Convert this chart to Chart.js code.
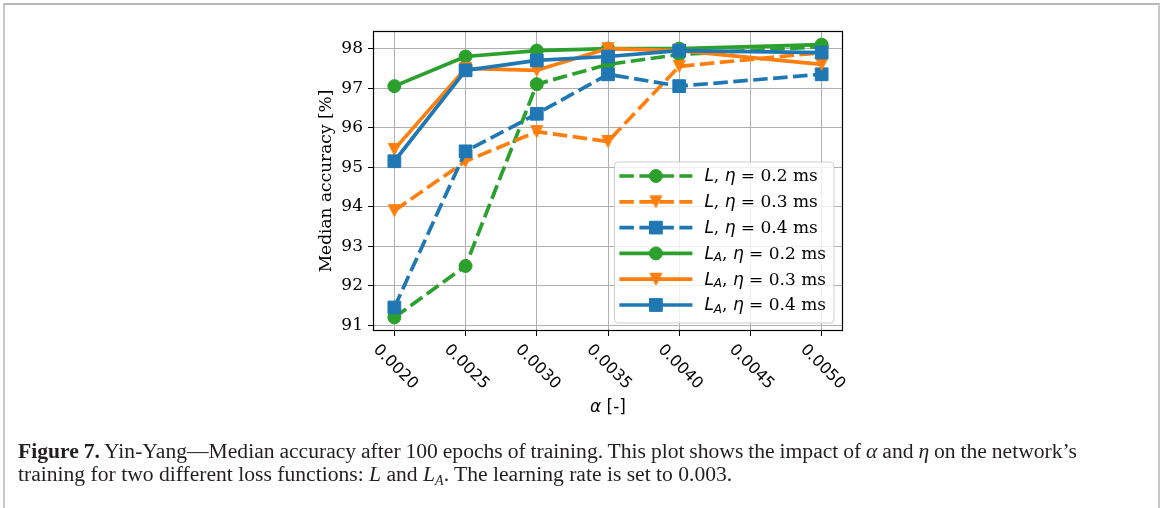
<!DOCTYPE html>
<html>
<head>
<meta charset="utf-8">
<script src="https://cdn.jsdelivr.net/npm/chart.js@4.4.1/dist/chart.umd.min.js"></script>
<style>
  html, body { margin: 0; padding: 0; background: #fff; width: 1163px; height: 508px; overflow: hidden; }
  #frame { position: absolute; left: 3px; top: 3px; width: 1153px; height: 620px;
           border-left: 2px solid #c8c8c8; border-top: 2px solid #b8b8b8; border-right: 2px solid #c8c8c8; }
  #plot { position: absolute; left: 0; top: 0; }
  #caption { position: absolute; left: 18px; top: 440px; font-family: "Liberation Serif", serif;
             font-size: 21.6px; line-height: 22.5px; color: #231f20; white-space: nowrap; }
  #caption .l1 { word-spacing: -0.5px; }
  #caption b { font-weight: bold; }
  #caption sub { font-size: 14px; vertical-align: -4px; line-height: 0; }
</style>
</head>
<body>
<div id="frame"></div>
<canvas id="plot" width="1163" height="508"></canvas>
<div id="caption"><div class="l1"><b>Figure 7.</b> Yin-Yang—Median accuracy after 100 epochs of training. This plot shows the impact of <i>α</i> and <i>η</i> on the network’s</div><div>training for two different loss functions: <i>L</i> and <i>L</i><sub><i>A</i></sub>. The learning rate is set to 0.003.</div></div>
<script>
// Step size alpha on the x axis
const alphas = [0.0020, 0.0025, 0.0030, 0.0035, 0.0040, 0.0050];

// Median accuracy [%] per loss function and eta
const accL_eta02  = [91.2, 92.5, 97.1, 97.6, 97.85, 98.05];
const accL_eta03  = [93.9, 95.15, 95.9, 95.65, 97.55, 97.9];
const accL_eta04  = [91.45, 95.4, 96.35, 97.35, 97.05, 97.35];
const accLA_eta02 = [97.05, 97.8, 97.95, 98.0, 98.0, 98.1];
const accLA_eta03 = [95.45, 97.5, 97.45, 98.0, 97.95, 97.6];
const accLA_eta04 = [95.15, 97.45, 97.7, 97.8, 97.95, 97.9];

// Tick values
const xTicks = [0.0020, 0.0025, 0.0030, 0.0035, 0.0040, 0.0045, 0.0050];
const yTicks = [91, 92, 93, 94, 95, 96, 97, 98];

const seriesLabels = ['L, η = 0.2 ms', 'L, η = 0.3 ms', 'L, η = 0.4 ms',
                      'L_A, η = 0.2 ms', 'L_A, η = 0.3 ms', 'L_A, η = 0.4 ms'];

const GREEN = '#2ca02c', ORANGE = '#ff7f0e', BLUE = '#1f77b4';
const LW = 3.7;
const DASH = [14.5, 5.5];

function triangleDown(color, size) {
  const c = document.createElement('canvas');
  const s = Math.ceil(size + 3);
  c.width = s; c.height = s;
  const g = c.getContext('2d');
  const o = (s - size) / 2;
  g.beginPath();
  g.moveTo(o, o); g.lineTo(o + size, o); g.lineTo(s / 2, o + size); g.closePath();
  g.fillStyle = color; g.fill();
  g.strokeStyle = color; g.lineWidth = 1; g.stroke();
  return c;
}

function marker(kind, color) {
  if (kind === 'circle') return { pointStyle: 'circle', pointRadius: 6.5 };
  if (kind === 'square') return { pointStyle: 'rect', pointRadius: 9 };
  return { pointStyle: triangleDown(color, 12), pointRadius: 7 };
}

function series(label, values, color, kind, dashed, order) {
  return Object.assign({
    label,
    data: alphas.map((a, i) => ({ x: a, y: values[i] })),
    borderColor: color,
    backgroundColor: color,
    pointBackgroundColor: color,
    pointBorderColor: color,
    pointBorderWidth: 1,
    borderWidth: LW,
    borderDash: dashed ? DASH : [],
    borderCapStyle: 'butt',
    borderJoinStyle: 'round',
    tension: 0,
    fill: false,
    clip: false,
    order
  }, marker(kind, color));
}

const datasets = [
  series(seriesLabels[0], accL_eta02, GREEN, 'circle', true, 5),
  series(seriesLabels[1], accL_eta03, ORANGE, 'triangle', true, 4),
  series(seriesLabels[2], accL_eta04, BLUE, 'square', true, 3),
  series(seriesLabels[3], accLA_eta02, GREEN, 'circle', false, 2),
  series(seriesLabels[4], accLA_eta03, ORANGE, 'triangle', false, 1),
  series(seriesLabels[5], accLA_eta04, BLUE, 'square', false, 0)
];

// Axis limits with a 5% margin around the data
function padded(vals, frac) {
  const lo = Math.min(...vals), hi = Math.max(...vals);
  const m = (hi - lo) * frac;
  return [lo - m, hi + m];
}
const [xMin, xMax] = padded(alphas, 0.05);
const [yMin, yMax] = padded([].concat(accL_eta02, accL_eta03, accL_eta04, accLA_eta02, accLA_eta03, accLA_eta04), 0.05);

function drawMarker(ctx, ds, x, y) {
  const st = ds.pointStyle, r = ds.pointRadius;
  ctx.save();
  ctx.fillStyle = ds.pointBackgroundColor;
  ctx.strokeStyle = ds.pointBorderColor;
  ctx.lineWidth = ds.pointBorderWidth;
  ctx.setLineDash([]);
  if (st === 'circle') {
    ctx.beginPath(); ctx.arc(x, y, r, 0, Math.PI * 2); ctx.fill(); ctx.stroke();
  } else if (st === 'rect') {
    const h = Math.SQRT1_2 * r;
    ctx.beginPath(); ctx.rect(x - h, y - h, 2 * h, 2 * h); ctx.fill(); ctx.stroke();
  } else {
    ctx.drawImage(st, x - st.width / 2, y - st.height / 2);
  }
  ctx.restore();
}

// Label such as "L_A, η = 0.2 ms": math symbols in italic sans, the rest in serif
function drawLabel(ctx, text, x, y, size) {
  const ital = `italic ${size}px "DejaVu Sans"`;
  const serif = `${size}px "DejaVu Serif"`;
  const parts = [];
  let rest = text;
  if (rest.startsWith('L_A')) {
    parts.push({ t: 'L', f: ital, dy: 0 });
    parts.push({ t: 'A', f: `italic ${Math.round(size * 0.7)}px "DejaVu Sans"`, dy: size * 0.22 });
    rest = rest.slice(3);
  } else {
    parts.push({ t: 'L', f: ital, dy: 0 });
    rest = rest.slice(1);
  }
  const i = rest.indexOf('η');
  parts.push({ t: rest.slice(0, i), f: serif, dy: 0 });
  parts.push({ t: 'η', f: ital, dy: 0 });
  parts.push({ t: rest.slice(i + 1), f: serif, dy: 0 });
  let cx = x;
  for (const p of parts) {
    ctx.font = p.f;
    ctx.fillText(p.t, cx, y + p.dy);
    cx += ctx.measureText(p.t).width;
  }
  return cx - x;
}

function labelWidth(ctx, text, size) {
  ctx.save();
  ctx.globalAlpha = 0;
  const w = drawLabel(ctx, text, 0, -100, size);
  ctx.restore();
  return w;
}

const decorations = {
  id: 'decorations',
  afterDatasetsDraw(chart) {
    const { ctx, chartArea: a } = chart;
    ctx.save();
    // frame of the axes
    ctx.strokeStyle = '#000';
    ctx.lineWidth = 1.2;
    ctx.setLineDash([]);
    ctx.strokeRect(a.left + 0.5, a.top + 0.5, a.right - a.left - 1, a.bottom - a.top - 1);

    // legend in the lower right corner
    const fs = 17;
    const rowH = 25.8;
    const texts = chart.data.datasets.map(d => d.label);
    const tw = Math.max(...texts.map(t => labelWidth(ctx, t, fs)));
    const boxW = 5 + 73 + 12 + tw + 8;
    const boxH = 14 + (texts.length - 1) * rowH + 18;
    const bx = a.right - 9 - boxW;
    const by = a.bottom - 8 - boxH;
    ctx.beginPath();
    ctx.roundRect(bx, by, boxW, boxH, 4);
    ctx.fillStyle = 'rgba(255,255,255,0.8)';
    ctx.fill();
    ctx.strokeStyle = '#cccccc';
    ctx.lineWidth = 1;
    ctx.stroke();
    chart.data.datasets.forEach((ds, i) => {
      const cy = by + 14 + i * rowH;
      const x0 = bx + 5, x1 = x0 + 73;
      ctx.beginPath();
      ctx.strokeStyle = ds.borderColor;
      ctx.lineWidth = LW;
      ctx.lineCap = 'butt';
      ctx.setLineDash(ds.borderDash);
      ctx.moveTo(x0, cy); ctx.lineTo(x1, cy);
      ctx.stroke();
      ctx.setLineDash([]);
      drawMarker(ctx, ds, (x0 + x1) / 2, cy);
      ctx.fillStyle = '#000';
      ctx.textBaseline = 'middle';
      ctx.textAlign = 'left';
      drawLabel(ctx, ds.label, x1 + 12, cy + 1, fs);
    });
    ctx.restore();
  },
  afterDraw(chart) {
    const { ctx, chartArea: a } = chart;
    const xs = chart.scales.x;
    ctx.save();
    ctx.fillStyle = '#000';
    // rotated x tick labels
    ctx.font = '16px "DejaVu Sans"';
    ctx.textAlign = 'center';
    ctx.textBaseline = 'middle';
    xs.ticks.forEach(t => {
      const px = xs.getPixelForValue(t.value);
      ctx.save();
      ctx.translate(px + 1, a.bottom + 36);
      ctx.rotate(Math.PI / 4);
      ctx.fillText(t.value.toFixed(4), 0, 0);
      ctx.restore();
    });
    // x axis title
    const cx = (a.left + a.right) / 2;
    const y = a.bottom + 77;
    ctx.textAlign = 'left';
    ctx.font = 'italic 17px "DejaVu Sans"';
    const w1 = ctx.measureText('α').width;
    ctx.font = '17px "DejaVu Sans"';
    const w2 = ctx.measureText(' [-]').width;
    let x = cx - (w1 + w2) / 2;
    ctx.font = 'italic 17px "DejaVu Sans"';
    ctx.fillText('α', x, y);
    ctx.font = '17px "DejaVu Sans"';
    ctx.fillText(' [-]', x + w1, y);
    ctx.restore();
  }
};

Chart.defaults.color = '#000';

new Chart(document.getElementById('plot'), {
  type: 'line',
  data: { datasets },
  options: {
    responsive: false,
    animation: false,
    devicePixelRatio: 1,
    events: [],
    layout: { padding: { left: 300, right: 320, top: 31, bottom: 88 } },
    plugins: { legend: { display: false }, tooltip: { enabled: false } },
    scales: {
      x: {
        type: 'linear',
        min: xMin, max: xMax,
        afterBuildTicks: s => { s.ticks = xTicks.map(v => ({ value: v })); },
        afterFit: s => { s.height = 89; },
        ticks: { display: false },
        grid: { color: '#b0b0b0', lineWidth: 1, drawTicks: true, tickLength: 5, tickColor: '#000', tickWidth: 1 },
        border: { display: false }
      },
      y: {
        type: 'linear',
        min: yMin, max: yMax,
        afterBuildTicks: s => { s.ticks = yTicks.map(v => ({ value: v })); },
        afterFit: s => { s.width = 73; },
        ticks: { font: { family: 'DejaVu Serif', size: 17 }, color: '#000', padding: 5 },
        grid: { color: '#b0b0b0', lineWidth: 1, drawTicks: true, tickLength: 5, tickColor: '#000', tickWidth: 1 },
        border: { display: false },
        title: { display: true, text: 'Median accuracy [%]', color: '#000',
                 font: { family: 'DejaVu Serif', size: 17, lineHeight: 1.2 }, padding: { top: 16, bottom: 0 } }
      }
    }
  },
  plugins: [decorations]
});
</script>
</body>
</html>
